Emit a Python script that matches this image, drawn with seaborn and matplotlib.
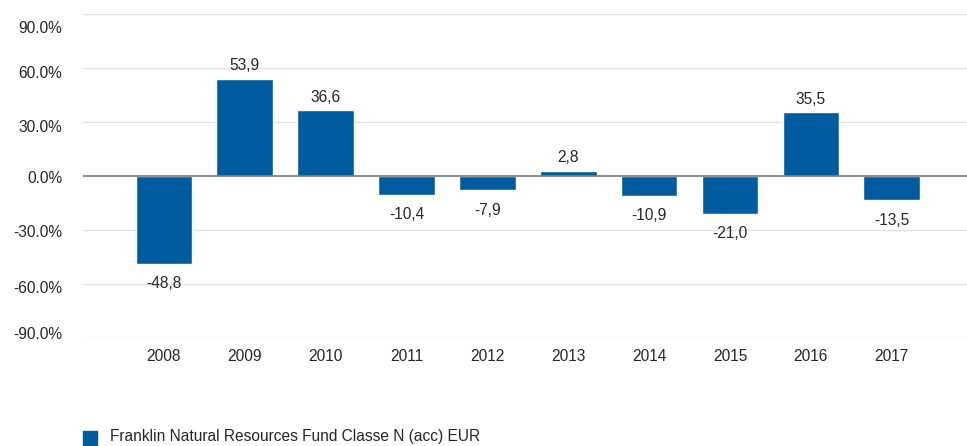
import seaborn as sns
import pandas as pd
import numpy as np
import matplotlib.pyplot as plt
from matplotlib.patches import Rectangle
import matplotlib.transforms as mtransforms

years=['2008','2009','2010','2011','2012','2013','2014','2015','2016','2017']
returns=[-48.8,53.9,36.6,-10.4,-7.9,2.8,-10.9,-21.0,35.5,-13.5]
yticks=[90,60,30,0,-30,-60,-90]
series_name='Franklin Natural Resources Fund Classe N (acc) EUR'
bar_color='#005B9F'

def main():
    sns.set_style('white')
    plt.rcParams['font.family']=['Liberation Sans','DejaVu Sans']
    fs=11.2
    df=pd.DataFrame({'year':years,'ret':returns})

    fig=plt.figure(figsize=(9.67,4.46),dpi=100)
    ax=fig.add_axes([83/967,1-338/446,1-83/967,324/446])
    sns.barplot(data=df,x='year',y='ret',color=bar_color,saturation=1,width=0.7,ax=ax,zorder=2)
    ax.set_xlim(-1.0,9.93)
    ax.set_ylim(-90,90)
    for s in ax.spines.values():
        s.set_visible(False)
    for v in yticks:
        if v!=0:
            ax.axhline(v,color='#e2e2e2',lw=1,zorder=0)
    ax.axhline(0,color='#7a7a7a',lw=1.2,zorder=3)
    ax.set_xlabel('')
    ax.set_ylabel('')
    ax.set_yticks(yticks)
    ax.set_yticklabels(['%.1f%%'%v for v in yticks],fontsize=fs)
    ax.tick_params(axis='y',length=0,pad=15)
    ax.tick_params(axis='x',length=0,pad=8,labelsize=fs)
    # labels sit a little below their lines, extremes pulled inside the frame
    shifts=[-13,-4,-4,-1,-1,-3,5]
    for lab,dy in zip(ax.get_yticklabels(),shifts):
        lab.set_transform(lab.get_transform()+mtransforms.ScaledTranslation(0,dy/100,fig.dpi_scale_trans))

    for i,v in enumerate(returns):
        txt=('%.1f'%v).replace('.',',')
        if v>=0:
            ax.annotate(txt,(i,v),xytext=(0,4),textcoords='offset points',ha='center',va='bottom',fontsize=fs)
        else:
            ax.annotate(txt,(i,v),xytext=(0,-9),textcoords='offset points',ha='center',va='top',fontsize=fs)

    fig.patches.append(Rectangle((83/967,1-445/446),14/967,14/446,transform=fig.transFigure,color=bar_color,figure=fig))
    fig.text(110/967,1-437/446,series_name,fontsize=fs,va='center',ha='left')

    fig.savefig('out.png',dpi=100)

if __name__=='__main__':
    main()
